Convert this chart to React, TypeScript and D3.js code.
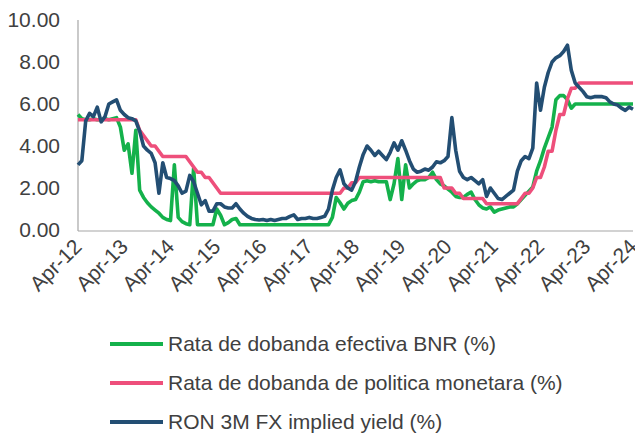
import React, { useEffect, useRef } from 'react';
import * as d3 from 'd3';

// monthly observations, Apr-12 .. Apr-24 (one row per year)
const efectiva = [
  5.5, 5.3, 5.25, 5.25, 5.3, 5.25, 5.25, 5.3, 5.25, 5.3, 5.35, 4.9,
  3.8, 4.1, 2.7, 4.75, 1.9, 1.55, 1.3, 1.1, 0.95, 0.8, 0.6, 0.5,
  0.45, 3.1, 0.6, 0.4, 0.3, 0.25, 2.95, 0.25, 0.25, 0.25, 0.25, 0.25,
  1.0, 0.7, 0.25, 0.35, 0.5, 0.55, 0.25, 0.25, 0.25, 0.25, 0.25, 0.25,
  0.25, 0.25, 0.25, 0.25, 0.25, 0.25, 0.25, 0.25, 0.25, 0.25, 0.25, 0.25,
  0.25, 0.25, 0.25, 0.25, 0.25, 0.25, 0.6, 1.55, 1.3, 1.0, 1.27, 1.4,
  1.45, 1.8, 2.3, 2.35, 2.3, 2.35, 2.3, 2.3, 2.3, 1.45, 2.2, 3.4,
  1.45, 3.1, 2.0, 2.2, 2.35, 2.4, 2.4, 2.5, 2.75, 2.4, 2.2, 2.1,
  1.95, 1.8, 1.6, 1.55, 1.55, 1.7, 1.8, 1.45, 1.2, 1.05, 1.0, 1.1,
  0.85, 0.95, 1.0, 1.05, 1.1, 1.1, 1.25, 1.45, 1.65, 1.85, 2.05, 2.8,
  3.3, 3.9, 4.4, 4.9, 6.2, 6.4, 6.4, 6.2, 5.8, 6.0, 6.0, 6.0,
  6.0, 6.0, 6.0, 6.0, 6.0, 6.0, 6.0, 6.0, 6.0, 6.0, 6.0, 6.0,
  6.0,
];

const politica = [
  5.25, 5.25, 5.25, 5.25, 5.25, 5.25, 5.25, 5.25, 5.25, 5.25, 5.25, 5.25,
  5.25, 5.25, 5.25, 5.25, 4.75, 4.5, 4.25, 4.0, 4.0, 3.75, 3.5, 3.5,
  3.5, 3.5, 3.5, 3.5, 3.5, 3.25, 3.0, 2.75, 2.75, 2.5, 2.5, 2.25,
  2.0, 1.75, 1.75, 1.75, 1.75, 1.75, 1.75, 1.75, 1.75, 1.75, 1.75, 1.75,
  1.75, 1.75, 1.75, 1.75, 1.75, 1.75, 1.75, 1.75, 1.75, 1.75, 1.75, 1.75,
  1.75, 1.75, 1.75, 1.75, 1.75, 1.75, 1.75, 1.75, 1.75, 2.0, 2.0, 2.25,
  2.25, 2.5, 2.5, 2.5, 2.5, 2.5, 2.5, 2.5, 2.5, 2.5, 2.5, 2.5,
  2.5, 2.5, 2.5, 2.5, 2.5, 2.5, 2.5, 2.5, 2.5, 2.5, 2.5, 2.0,
  2.0, 2.0, 1.75, 1.75, 1.5, 1.5, 1.5, 1.5, 1.5, 1.5, 1.25, 1.25,
  1.25, 1.25, 1.25, 1.25, 1.25, 1.25, 1.25, 1.5, 1.75, 1.75, 2.0, 2.5,
  2.5, 3.0, 3.75, 3.75, 4.75, 5.5, 5.5, 6.25, 6.75, 6.75, 7.0, 7.0,
  7.0, 7.0, 7.0, 7.0, 7.0, 7.0, 7.0, 7.0, 7.0, 7.0, 7.0, 7.0,
  7.0,
];

const impliedYield = [
  3.1, 3.3, 5.2, 5.55, 5.4, 5.85, 5.15, 5.4, 6.0, 6.1, 6.2, 5.7,
  5.5, 5.35, 5.3, 5.2, 4.7, 4.0, 3.8, 3.65, 3.2, 1.75, 3.2, 2.5,
  2.45, 2.35, 2.1, 1.75, 1.85, 2.6, 2.3, 1.75, 1.2, 1.4, 0.9, 0.9,
  1.25, 1.25, 1.1, 1.05, 1.05, 1.25, 1.0, 0.8, 0.65, 0.55, 0.5, 0.48,
  0.5, 0.45, 0.5, 0.45, 0.5, 0.55, 0.55, 0.65, 0.72, 0.5, 0.55, 0.55,
  0.6, 0.55, 0.55, 0.6, 0.65, 1.0, 1.9, 2.5, 2.86, 2.2, 2.0, 1.9,
  2.3, 3.0, 3.6, 4.0, 3.8, 3.55, 3.75, 3.55, 3.35, 3.7, 4.15, 3.8,
  4.25, 3.8, 3.3, 2.9, 2.75, 2.8, 2.9, 2.85, 3.0, 3.25, 3.2, 3.3,
  3.5, 5.35, 3.8, 2.8, 2.5, 2.4, 2.5, 2.35, 2.2, 2.4, 1.6, 2.0,
  1.75, 1.5, 1.45, 1.6, 1.75, 1.9, 2.8, 3.3, 3.5, 3.4, 3.9, 7.0,
  5.7, 6.8, 7.5, 8.0, 8.2, 8.3, 8.5, 8.8, 7.6, 7.0, 6.8, 6.6,
  6.35, 6.3, 6.35, 6.35, 6.35, 6.3, 6.1, 6.0, 5.95, 5.8, 5.7, 5.85,
  5.75,
];

const xTickLabels = ['Apr-12', 'Apr-13', 'Apr-14', 'Apr-15', 'Apr-16', 'Apr-17', 'Apr-18',
  'Apr-19', 'Apr-20', 'Apr-21', 'Apr-22', 'Apr-23', 'Apr-24'];
const yTicks = [0, 2, 4, 6, 8, 10];

const seriesNames = [
  'Rata de dobanda efectiva BNR (%)',
  'Rata de dobanda de politica monetara (%)',
  'RON 3M FX implied yield (%)',
];
const seriesColors = ['#14b14b', '#ee4f7b', '#234e73'];

const W = 635;
const H = 434;
const FONT = 'Liberation Sans, Arial, sans-serif';

const App = () => {
  const svgRef = useRef<SVGSVGElement>(null);

  useEffect(() => {
    const svg = d3.select(svgRef.current);
    svg.selectAll('*').remove();

    const left = 78, right = 633, top = 20, bottom = 230;

    const x = d3.scaleLinear().domain([0, 144]).range([left, right]);
    const y = d3.scaleLinear().domain([0, 10]).range([bottom, top]);

    // y labels
    svg.append('g')
      .selectAll('text')
      .data(yTicks)
      .join('text')
      .attr('x', 60)
      .attr('y', d => y(d))
      .attr('dy', '0.35em')
      .attr('text-anchor', 'end')
      .attr('font-family', FONT)
      .attr('font-size', 21)
      .attr('fill', '#404040')
      .text(d => d.toFixed(2));

    // axis lines
    svg.append('line')
      .attr('x1', left).attr('x2', left)
      .attr('y1', top).attr('y2', bottom + 1)
      .attr('stroke', '#a6a6a6').attr('stroke-width', 1.2);
    svg.append('line')
      .attr('x1', left).attr('x2', right)
      .attr('y1', bottom + 1).attr('y2', bottom + 1)
      .attr('stroke', '#a6a6a6').attr('stroke-width', 1.2);

    // x labels, rotated
    svg.append('g')
      .selectAll('text')
      .data(xTickLabels)
      .join('text')
      .attr('transform', (d, i) => `translate(${x(i * 12) + 5},${bottom + 18}) rotate(-45)`)
      .attr('text-anchor', 'end')
      .attr('font-family', FONT)
      .attr('font-size', 21)
      .attr('fill', '#404040')
      .text(d => d);

    const line = d3.line<number>()
      .x((d, i) => x(i))
      .y(d => y(d));

    [efectiva, politica, impliedYield].forEach((s, k) => {
      svg.append('path')
        .datum(s)
        .attr('d', line)
        .attr('fill', 'none')
        .attr('stroke', seriesColors[k])
        .attr('stroke-width', 3.6)
        .attr('stroke-linejoin', 'round');
    });

    // legend
    const lg = svg.append('g');
    seriesNames.forEach((name, k) => {
      const ly = 344 + k * 39;
      lg.append('line')
        .attr('x1', 110).attr('x2', 163)
        .attr('y1', ly).attr('y2', ly)
        .attr('stroke', seriesColors[k])
        .attr('stroke-width', 4);
      lg.append('text')
        .attr('x', 168)
        .attr('y', ly)
        .attr('dy', '0.35em')
        .attr('font-family', FONT)
        .attr('font-size', 21)
        .attr('fill', '#404040')
        .text(name);
    });
  }, []);

  return (
    <svg
      ref={svgRef}
      width={W}
      height={H}
      style={{ position: 'absolute', left: 0, top: 0, background: '#fff' }}
    />
  );
};

export default App;
